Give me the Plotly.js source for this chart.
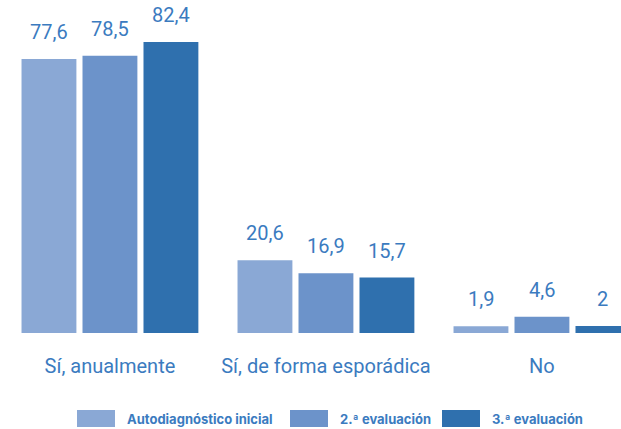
<!DOCTYPE html>
<html>
<head>
<meta charset="utf-8">
<script src="https://cdn.plot.ly/plotly-3.0.1.min.js"></script>
<style>html,body{margin:0;padding:0;background:#fff}#chart{width:621px;height:429px}</style>
</head>
<body>
<div id="chart"></div>
<script>
const categories = ["Sí, anualmente", "Sí, de forma esporádica", "No"];
const seriesNames = ["Autodiagnóstico inicial", "2.ª evaluación", "3.ª evaluación"];
const autodiagnostico = [77.6, 20.6, 1.9];
const evaluacion2 = [78.5, 16.9, 4.6];
const evaluacion3 = [82.4, 15.7, 2];
const seriesValues = [autodiagnostico, evaluacion2, evaluacion3];
const colors = ["#8aa8d5", "#6c93ca", "#2f70ae"];
const textColor = "#3b7bbf";
const fmt = v => String(v).replace(".", ",");

const traces = seriesValues.map((vals, i) => ({
  type: "bar",
  name: seriesNames[i],
  x: categories,
  y: vals,
  marker: {color: colors[i]},
  showlegend: false,
  hoverinfo: "skip"
}));

const annotations = [];
seriesValues.forEach((vals, i) => {
  vals.forEach((v, k) => {
    annotations.push({
      x: categories[k], y: v, xref: "x", yref: "y",
      xshift: (i - 1) * 61, yshift: 13,
      yanchor: "bottom", showarrow: false,
      text: fmt(v),
      font: {family: "Roboto, sans-serif", size: 20, color: textColor}
    });
  });
});

// custom legend
const legendSw = [77, 290, 442];
const shapes = [];
seriesNames.forEach((n, i) => {
  shapes.push({type: "rect", xref: "paper", yref: "paper",
    x0: legendSw[i] / 621, x1: (legendSw[i] + 38) / 621,
    y0: (429 - 427 - 96) / 333, y1: (429 - 410 - 96) / 333,
    fillcolor: colors[i], line: {width: 0}});
  annotations.push({xref: "paper", yref: "paper",
    x: (legendSw[i] + 48) / 621, y: (429 - 418.5 - 96) / 333,
    xanchor: "left", yanchor: "middle", showarrow: false,
    text: "<b>" + n + "</b>",
    font: {family: "Inter, sans-serif", size: 13, color: textColor}});
});

const layout = {
  width: 621, height: 429,
  margin: {l: 0, r: 0, t: 0, b: 96},
  paper_bgcolor: "#fff", plot_bgcolor: "#fff",
  barmode: "group", bargap: 0.153, bargroupgap: 0.1,
  xaxis: {type: "category", range: [-0.509, 2.366], showgrid: false, zeroline: false,
    showline: false, ticks: "outside", ticklen: 15, tickcolor: "rgba(0,0,0,0)",
    tickfont: {family: "Roboto, sans-serif", size: 20, color: textColor}},
  yaxis: {range: [0, 94.3], visible: false, showgrid: false, zeroline: false},
  annotations: annotations,
  shapes: shapes
};

Plotly.newPlot("chart", traces, layout, {staticPlot: true, displayModeBar: false});
</script>
</body>
</html>
